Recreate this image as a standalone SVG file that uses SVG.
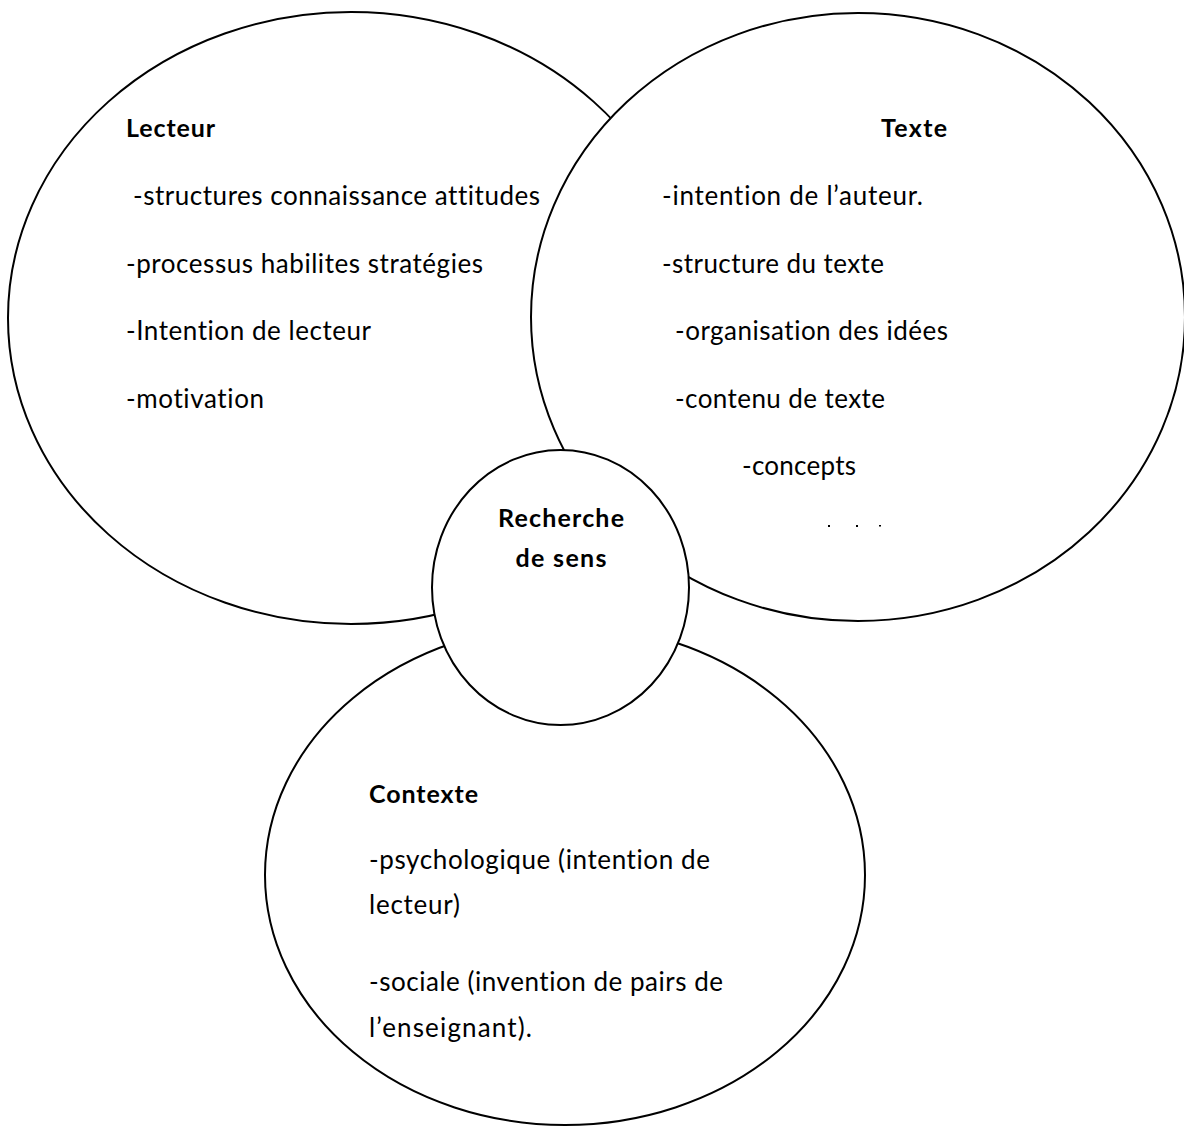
<svg xmlns="http://www.w3.org/2000/svg" width="1184" height="1131" viewBox="0 0 1184 1131">
  <style>
    .shape { fill: #ffffff; stroke: #000000; stroke-width: 2; }
    .t { font-family: Lato, "Open Sans", "Liberation Sans", sans-serif; font-size: 26px; fill: #000000; font-variant-ligatures: none; }
    .b { font-family: Lato, "Open Sans", "Liberation Sans", sans-serif; font-size: 25px; font-weight: bold; fill: #000000; font-variant-ligatures: none; }
  </style>
  <rect x="0" y="0" width="1184" height="1131" fill="#ffffff"/>
  <g id="lecteur">
    <ellipse class="shape" cx="351" cy="318" rx="343" ry="306"/>
    <text class="b" x="126" y="137" textLength="89">Lecteur</text>
    <text class="t" x="133" y="205" textLength="407">-structures connaissance attitudes</text>
    <text class="t" x="126" y="273" textLength="357">-processus habilites stratégies</text>
    <text class="t" x="126" y="340" textLength="245">-Intention de lecteur</text>
    <text class="t" x="126" y="408" textLength="138">-motivation</text>
  </g>
  <g id="texte">
    <ellipse class="shape" cx="858" cy="317" rx="327" ry="304"/>
    <text class="b" x="881" y="137" textLength="66">Texte</text>
    <text class="t" x="662" y="205" textLength="261">-intention de l’auteur.</text>
    <text class="t" x="662" y="273" textLength="222">-structure du texte</text>
    <text class="t" x="675" y="340" textLength="273">-organisation des idées</text>
    <text class="t" x="675" y="408" textLength="210">-contenu de texte</text>
    <text class="t" x="742" y="475" textLength="114">-concepts</text>
    <rect x="828" y="525" width="2" height="2" fill="#000000"/>
    <rect x="856" y="525" width="2" height="2" fill="#000000"/>
    <rect x="879" y="525" width="2" height="1.5" fill="#000000"/>
  </g>
  <g id="contexte">
    <ellipse class="shape" cx="565" cy="875" rx="300" ry="250"/>
    <text class="b" x="369" y="803" textLength="109">Contexte</text>
    <text class="t" x="369" y="869" textLength="341">-psychologique (intention de</text>
    <text class="t" x="369" y="914" textLength="91">lecteur)</text>
    <text class="t" x="369" y="991" textLength="354">-sociale (invention de pairs de</text>
    <text class="t" x="369" y="1037" textLength="163">l’enseignant).</text>
  </g>
  <g id="recherche">
    <ellipse class="shape" cx="560.5" cy="587.5" rx="128.5" ry="137.5"/>
    <text class="b" x="561" y="527" text-anchor="middle" textLength="126">Recherche</text>
    <text class="b" x="561" y="567" text-anchor="middle" textLength="91">de sens</text>
  </g>
  <g id="connectors"/>
</svg>
